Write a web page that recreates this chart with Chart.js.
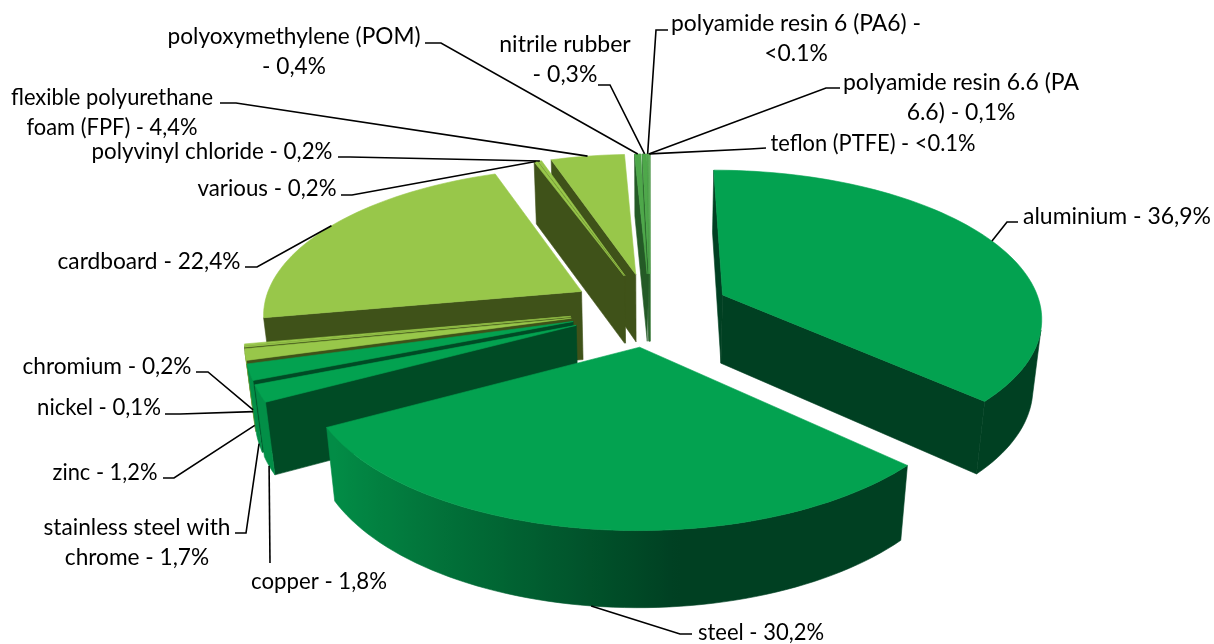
<!DOCTYPE html>
<html>
<head>
<meta charset="utf-8">
<title>Materials</title>
<script src="https://cdn.jsdelivr.net/npm/chart.js@4/dist/chart.umd.min.js"></script>
<style>
  html, body { margin: 0; padding: 0; background: #fff; }
  canvas { display: block; }
</style>
</head>
<body>
<canvas id="pie" width="1214" height="644"></canvas>
<script>
// clockwise from 12 o'clock, same order as the source chart
const categories = ["aluminium", "steel", "copper", "stainless steel with chrome", "zinc", "nickel", "chromium",
    "cardboard", "various", "polyvinyl chloride", "flexible polyurethane foam (FPF)", "polyoxymethylene (POM)",
    "nitrile rubber", "polyamide resin 6 (PA6)", "polyamide resin 6.6 (PA 6.6)", "teflon (PTFE)"];
// the printed labels are rounded and overshoot 100, the small ones are estimated within their rounding
const values = [36.9, 30.2, 1.8, 1.7, 1.2, 0.1, 0.2, 22.4, 0.2, 0.2, 4.35, 0.37, 0.27, 0.02, 0.08, 0.02];
const topColors = ["#03a250", "#03a250", "#03a250", "#03a250", "#98c74a", "#98c74a", "#98c74a",
    "#98c74a", "#98c74a", "#98c74a", "#98c74a", "#4ea84a", "#4ea84a", "#5bae55", "#5bae55", "#74bb6c"];
const sideColors = ["#004022", "#004022", "#004b25", "#004b25", "#3f5219", "#3f5219", "#3f5219",
    "#3f5219", "#3f5219", "#3f5219", "#3f5219", "#245a26", "#245a26", "#2e6a2e", "#2e6a2e", "#3f8040"];

// text of each data label, one entry per line
const labelLines = [
    ["aluminium - 36,9%"], ["steel - 30,2%"], ["copper - 1,8%"], ["stainless steel with", "chrome - 1,7%"],
    ["zinc - 1,2%"], ["nickel - 0,1%"], ["chromium - 0,2%"], ["cardboard - 22,4%"], ["various - 0,2%"],
    ["polyvinyl chloride - 0,2%"], ["flexible polyurethane", "foam (FPF) - 4,4%"], ["polyoxymethylene (POM)", "- 0,4%"],
    ["nitrile rubber", "- 0,3%"], ["polyamide resin 6 (PA6) -", "<0.1%"], ["polyamide resin 6.6 (PA", "6.6) - 0,1%"],
    ["teflon (PTFE) - <0.1%"]
];
// where the labels sit: centre x, first baseline, width of the first line, then the leader's fixed points
const labelBoxes = [
    { x: 1117, y: 224, w: 188, lead: [[1018, 222], [1007, 222]] },
    { x: 761, y: 640, w: 126, lead: [[692, 634], [680, 634]] },
    { x: 319, y: 589, w: 136, lead: [[270, 563]] },
    { x: 137, y: 535, w: 187, lead: [[235, 533], [246, 533]] },
    { x: 105, y: 480, w: 105, lead: [[163, 478], [174, 478]] },
    { x: 99, y: 415, w: 124, lead: [[165, 414], [180, 414]], foot: 0.92 },
    { x: 107, y: 374, w: 169, lead: [[196, 372], [208, 372]], foot: 0.92 },
    { x: 149, y: 269, w: 183, lead: [[245, 267], [257, 267]] },
    { x: 267, y: 196, w: 139, lead: [[341, 195], [352, 195]] },
    { x: 212, y: 159, w: 241, lead: [[338, 157], [350, 157]] },
    { x: 112, y: 105, w: 202, lead: [[220, 103], [236, 103]] },
    { x: 294, y: 44, w: 253, lead: [[425, 43], [441, 43]] },
    { x: 565, y: 52, w: 132, lead: [[598, 85], [610, 85]] },
    { x: 796, y: 31, w: 250, lead: [[668, 30], [656, 30]] },
    { x: 961, y: 90, w: 236, lead: [[840, 88], [826, 88]] },
    { x: 873, y: 151, w: 205, lead: [[766, 148], [750, 149]] }
];

// fitted projection of the tilted pie onto the page
const view = { cx: 650, cy: 309.4, a: 319, b: 146, p: 0.14, q: 0.023, c: 70.5 };

function project(u, v, z) {
    const w = 1 - view.p * v + view.q * z;
    return [view.cx + view.a * u / w, view.cy + (view.b * v + view.c * z) / w];
}

function mix(c1, c2, t) {
    const r = c1.map((n, i) => Math.round(n + (c2[i] - n) * t));
    return `rgb(${r[0]},${r[1]},${r[2]})`;
}

function hexRgb(h) {
    return [1, 3, 5].map(i => parseInt(h.substr(i, 2), 16));
}

function poly(ctx, pts, fill) {
    ctx.beginPath();
    pts.forEach((p, i) => i ? ctx.lineTo(p[0], p[1]) : ctx.moveTo(p[0], p[1]));
    ctx.closePath();
    ctx.fillStyle = fill;
    ctx.strokeStyle = fill;
    ctx.lineWidth = 0.6;
    ctx.fill();
    ctx.stroke();
}

function screenArea(pts) {
    let s = 0;
    pts.forEach((p, i) => {
        const n = pts[(i + 1) % pts.length];
        s += p[0] * n[1] - n[0] * p[1];
    });
    return s / 2;
}

// the rim goes lighter towards the left, the right side stays flat
function wallColor(i, angle) {
    const base = hexRgb(sideColors[i]);
    const nx = Math.cos(angle);
    if (nx >= 0.1) return sideColors[i];
    const t = Math.min(1, (0.1 - nx) / 0.95);
    return mix(base, hexRgb(topColors[i]), t * 0.78);
}

function drawWall(ctx, rim, i) {
    const up = (pt) => project(pt[0], pt[1], 0);
    const down = (pt) => project(pt[0], pt[1], 1);
    const shown = [];
    for (let s = 0; s < rim.length - 1; s++) {
        const quad = [up(rim[s]), down(rim[s]), down(rim[s + 1]), up(rim[s + 1])];
        if (screenArea(quad) > 0) shown.push(s);
    }
    if (!shown.length) return;
    const run = rim.slice(shown[0], shown[shown.length - 1] + 2);
    const topEdge = run.map(up);
    const footEdge = run.map(down).reverse();
    const xs = topEdge.map(p => p[0]);
    const x0 = Math.min(...xs), x1 = Math.max(...xs);
    let fill = sideColors[i];
    if (x1 - x0 > 1) {
        fill = ctx.createLinearGradient(x0, 0, x1, 0);
        run.forEach((pt, n) => {
            fill.addColorStop((xs[n] - x0) / (x1 - x0), wallColor(i, pt[2]));
        });
    }
    poly(ctx, topEdge.concat(footEdge), fill);
}

function drawSlice(ctx, arc, i) {
    const r = arc.outerRadius;
    const mid = (arc.startAngle + arc.endAngle) / 2;
    const e = arc.options.offset / r;
    const ox = e * Math.cos(mid), oy = e * Math.sin(mid);
    const steps = Math.max(2, Math.ceil((arc.endAngle - arc.startAngle) / 0.03));
    const rim = [];
    for (let s = 0; s <= steps; s++) {
        const ang = arc.startAngle + (arc.endAngle - arc.startAngle) * s / steps;
        rim.push([ox + Math.cos(ang), oy + Math.sin(ang), ang]);
    }
    const apex = [ox, oy];
    const up = (pt) => project(pt[0], pt[1], 0);
    const down = (pt) => project(pt[0], pt[1], 1);

    // radial faces, only the ones turned towards the camera
    const first = rim[0], last = rim[rim.length - 1];
    const startFace = [up(first), up(apex), down(apex), down(first)];
    const endFace = [up(apex), up(last), down(last), down(apex)];
    if (screenArea(startFace) > 0) poly(ctx, startFace, sideColors[i]);
    if (screenArea(endFace) > 0) poly(ctx, endFace, sideColors[i]);

    drawWall(ctx, rim, i);
    poly(ctx, [up(apex)].concat(rim.map(up)), topColors[i]);
}

function drawLabels(ctx, arcs) {
    ctx.font = "23px Lato";
    ctx.textAlign = "center";
    ctx.textBaseline = "alphabetic";
    arcs.forEach((arc, i) => {
        const box = labelBoxes[i];
        const mid = (arc.startAngle + arc.endAngle) / 2;
        const e = arc.options.offset / arc.outerRadius;
        const k = 1 + e;
        const u = k * Math.cos(mid), v = k * Math.sin(mid);
        // front slices are hooked at the foot of the rim, back ones at the top edge
        const anchor = project(u, v, Math.sin(mid) > 0 ? (box.foot || 1) : 0);

        ctx.beginPath();
        box.lead.forEach((p, n) => n ? ctx.lineTo(p[0], p[1]) : ctx.moveTo(p[0], p[1]));
        ctx.lineTo(anchor[0], anchor[1]);
        ctx.strokeStyle = "#000";
        ctx.lineWidth = 1.6;
        ctx.stroke();

        ctx.fillStyle = "#000";
        const full = ctx.measureText(labelLines[i][0]).width;
        const squeeze = Math.min(1, box.w / full);
        labelLines[i].forEach((line, n) => {
            ctx.fillText(line, box.x, box.y + n * 29.5, ctx.measureText(line).width * squeeze);
        });
    });
}

const pie3d = {
    id: "pie3d",
    beforeDatasetDraw(chart, args) {
        const ctx = chart.ctx;
        const arcs = args.meta.data;
        const order = arcs.map((a, i) => i).sort((m, n) => {
            const depth = (a) => Math.sin((a.startAngle + a.endAngle) / 2);
            return depth(arcs[m]) - depth(arcs[n]);
        });
        ctx.save();
        order.forEach(i => drawSlice(ctx, arcs[i], i));
        drawLabels(ctx, arcs);
        ctx.restore();
        return false;
    }
};

new Chart(document.getElementById("pie"), {
    type: "pie",
    data: {
        labels: categories,
        datasets: [{ data: values, backgroundColor: topColors, offset: 72, borderWidth: 0 }]
    },
    options: {
        responsive: false,
        animation: false,
        plugins: { legend: { display: false }, tooltip: { enabled: false } }
    },
    plugins: [pie3d]
});
</script>
</body>
</html>
